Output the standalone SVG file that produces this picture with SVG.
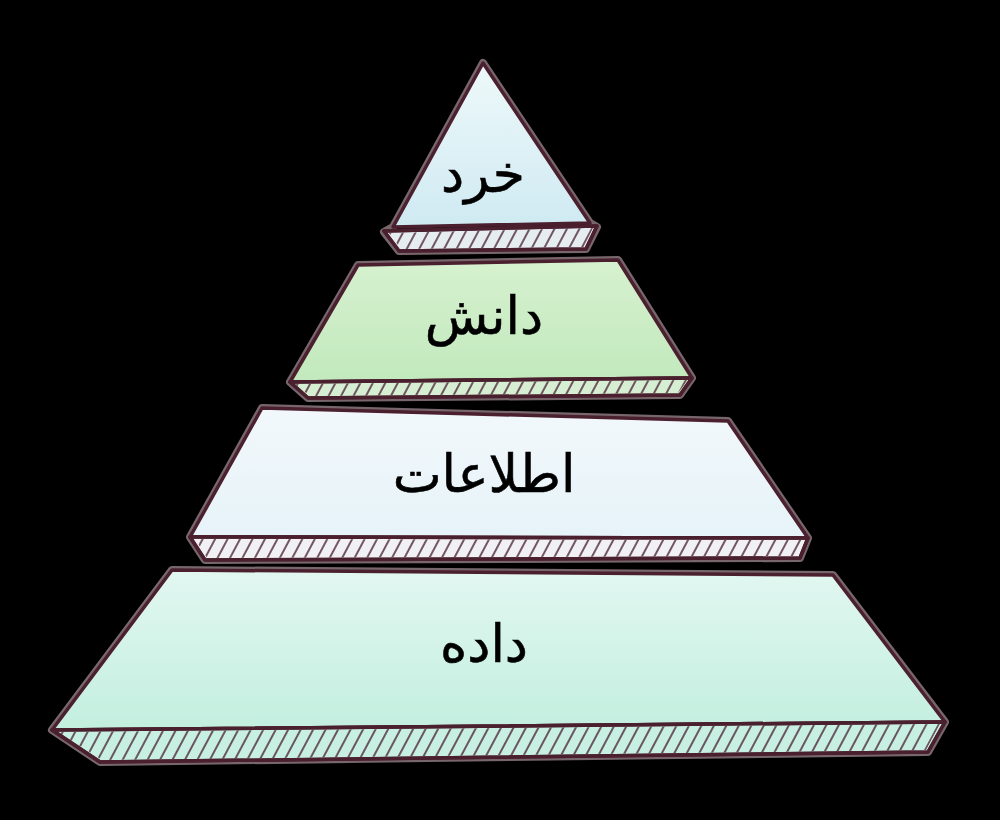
<svg xmlns="http://www.w3.org/2000/svg" width="1000" height="820" viewBox="0 0 1000 820">
<defs>
<pattern id="hatch" patternUnits="userSpaceOnUse" width="11" height="11" patternTransform="rotate(28)">
<line x1="3" y1="0" x2="3" y2="11" stroke="#533040" stroke-width="2" stroke-opacity="0.8"/>
</pattern>
<linearGradient id="g1" x1="0" y1="0" x2="0" y2="1">
<stop offset="0" stop-color="#eef9fa"/><stop offset="1" stop-color="#cfeaf2"/>
</linearGradient>
<linearGradient id="g2" x1="0" y1="0" x2="0" y2="1">
<stop offset="0" stop-color="#d6f1cf"/><stop offset="1" stop-color="#c2e9bd"/>
</linearGradient>
<linearGradient id="g3" x1="0" y1="0" x2="0" y2="1">
<stop offset="0" stop-color="#f2f8fb"/><stop offset="1" stop-color="#e6f3f8"/>
</linearGradient>
<linearGradient id="g4" x1="0" y1="0" x2="0" y2="1">
<stop offset="0" stop-color="#e2f7f1"/><stop offset="1" stop-color="#c3efdf"/>
</linearGradient>
</defs>
<style>
.halo{fill:none;stroke:#d9bcc4;stroke-width:8;stroke-opacity:0.55;stroke-linejoin:round}
.edge{stroke:#4a1f2e;stroke-width:3.5;stroke-linejoin:round}
.hatch{fill:url(#hatch);stroke:none}
.lbl{font-family:"DejaVu Sans","Noto Sans",sans-serif;font-size:52px;fill:#000;text-anchor:middle;stroke:#000;stroke-width:0.6}
</style>
<rect width="1000" height="820" fill="#000"/>

<g id="tier-data">
<polygon class="halo" points="172,570 833,575 945,722 928,752 100,762 52,730"/>
<polygon class="edge" fill="url(#g4)" points="172,570 833,575 945,722 52,730"/>
<polygon class="edge" fill="#c8f0e2" points="52,730 945,722 928,752 100,762"/>
<polygon class="hatch" points="58,732 940,724 926,750 102,760"/>
<polygon fill="none" class="edge" points="52,730 945,722 928,752 100,762"/>
<text class="lbl" x="484" y="662" direction="rtl">داده</text>
</g>

<g id="tier-information">
<polygon class="halo" points="262,408 728,421 808,538 800,558 205,560 190,537"/>
<polygon class="edge" fill="url(#g3)" points="262,408 728,421 808,538 190,537"/>
<polygon class="edge" fill="#f1f1f4" points="190,537 808,538 800,558 205,560"/>
<polygon class="hatch" points="195,539 804,540 797,556 207,558"/>
<polygon fill="none" class="edge" points="190,537 808,538 800,558 205,560"/>
<text class="lbl" x="484" y="492" direction="rtl">اطلاعات</text>
</g>

<g id="tier-knowledge">
<polygon class="halo" points="358,265 618,260 692,378 680,395 308,398 290,382"/>
<polygon class="edge" fill="url(#g2)" points="358,265 618,260 692,378 290,382"/>
<polygon class="edge" fill="#d6eed2" points="290,382 692,378 680,395 308,398"/>
<polygon class="hatch" points="295,384 688,380 678,393 310,396"/>
<polygon fill="none" class="edge" points="290,382 692,378 680,395 308,398"/>
<text class="lbl" x="484" y="334" direction="rtl">دانش</text>
</g>

<g id="tier-wisdom">
<polygon class="halo" points="483,63 590,223 597,227 586,249 399,251 384,232 393,227"/>
<polygon class="edge" fill="url(#g1)" points="483,63 590,223 393,227"/>
<polygon class="edge" fill="#e6edf1" points="384,231 597,226 586,249 399,251"/>
<polygon class="hatch" points="389,233 593,228 584,247 401,249"/>
<polygon fill="none" class="edge" points="384,231 597,226 586,249 399,251"/>
<text class="lbl" x="483" y="192" direction="rtl">خرد</text>
</g>
</svg>
